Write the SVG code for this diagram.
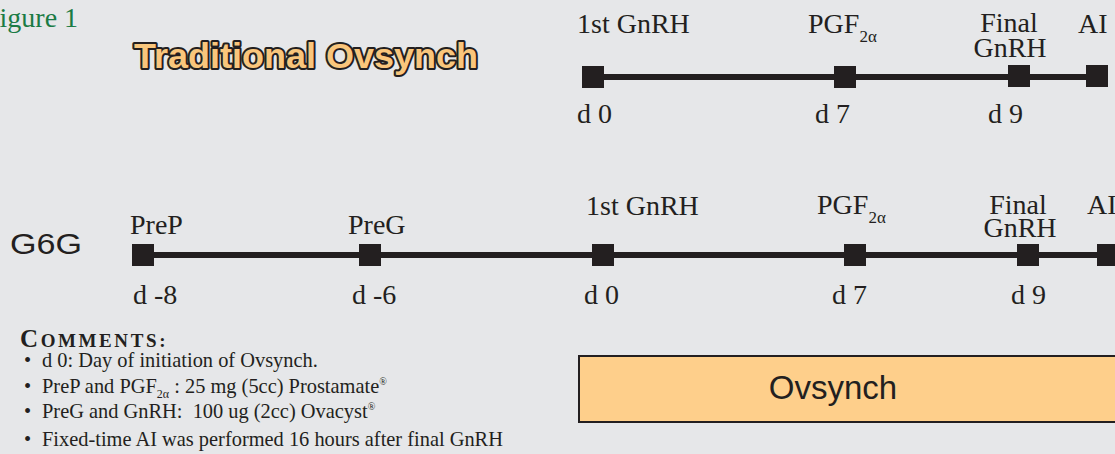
<svg xmlns="http://www.w3.org/2000/svg" width="1115" height="454" viewBox="0 0 1115 454">
<style>
.lbl{font-family:"Liberation Serif","Times New Roman",serif;font-size:28px;fill:#231f20}
.sub{font-size:17px}
.mk{fill:#231f20}
.ln{stroke:#231f20;stroke-width:6;fill:none}
.cm{font-family:"Liberation Serif","Times New Roman",serif;font-size:20.4px;fill:#231f20}
</style>
<rect x="0" y="0" width="1115" height="454" fill="#e6e7e9"/>
<text x="-16" y="27" font-family="Liberation Serif, serif" font-size="28" fill="#1b7b45">Figure 1</text>
<text id="title" x="134" y="68" font-family="Liberation Sans, Arial, sans-serif" font-weight="bold" font-size="35" fill="#f9c67c" stroke="#231f20" stroke-width="4" stroke-linejoin="round" paint-order="stroke" textLength="344" lengthAdjust="spacingAndGlyphs">Traditional Ovsynch</text>
<text id="g6g" x="10" y="254" font-family="Liberation Sans, Arial, sans-serif" font-size="29" fill="#231f20" textLength="72" lengthAdjust="spacingAndGlyphs">G6G</text>

<g id="connectors">
<line class="ln" x1="582" y1="77" x2="1108" y2="77"/>
<line class="ln" x1="132" y1="255" x2="1115" y2="255"/>
</g>

<g id="top-1st-gnrh">
<rect class="mk" x="582" y="66" width="22" height="22"/>
<text class="lbl" x="577" y="33">1st GnRH</text>
<text class="lbl" x="577" y="123">d 0</text>
</g>
<g id="top-pgf">
<rect class="mk" x="834" y="66" width="22" height="22"/>
<text class="lbl" x="808" y="33">PGF<tspan class="sub" dy="9">2α</tspan></text>
<text class="lbl" x="815" y="123">d 7</text>
</g>
<g id="top-final-gnrh">
<rect class="mk" x="1008" y="65" width="22" height="22"/>
<text class="lbl" x="1009" y="32" text-anchor="middle">Final</text>
<text class="lbl" x="1010" y="57" text-anchor="middle">GnRH</text>
<text class="lbl" x="988" y="123">d 9</text>
</g>
<g id="top-ai">
<rect class="mk" x="1086" y="65" width="22" height="22"/>
<text class="lbl" x="1078" y="33">AI</text>
</g>

<g id="g6g-prep">
<rect class="mk" x="132" y="244" width="22" height="22"/>
<text class="lbl" x="130" y="234">PreP</text>
<text class="lbl" x="133" y="304">d -8</text>
</g>
<g id="g6g-preg">
<rect class="mk" x="359" y="244" width="22" height="22"/>
<text class="lbl" x="348" y="234">PreG</text>
<text class="lbl" x="352" y="304">d -6</text>
</g>
<g id="g6g-1st-gnrh">
<rect class="mk" x="592" y="244" width="22" height="22"/>
<text class="lbl" x="586" y="215">1st GnRH</text>
<text class="lbl" x="584" y="304">d 0</text>
</g>
<g id="g6g-pgf">
<rect class="mk" x="844" y="244" width="22" height="22"/>
<text class="lbl" x="817" y="214">PGF<tspan class="sub" dy="9">2α</tspan></text>
<text class="lbl" x="832" y="304">d 7</text>
</g>
<g id="g6g-final-gnrh">
<rect class="mk" x="1017" y="244" width="22" height="22"/>
<text class="lbl" x="1018" y="214" text-anchor="middle">Final</text>
<text class="lbl" x="1020" y="237" text-anchor="middle">GnRH</text>
<text class="lbl" x="1011" y="304">d 9</text>
</g>
<g id="g6g-ai">
<rect class="mk" x="1097" y="244" width="22" height="22"/>
<text class="lbl" x="1087" y="214">AI</text>
</g>

<g id="comments">
<text x="20" y="347" font-family="Liberation Serif, serif" font-weight="bold" fill="#231f20" letter-spacing="2.6"><tspan font-size="25">C</tspan><tspan font-size="19">OMMENTS:</tspan></text>
<text class="cm" x="24" y="367">•</text>
<text class="cm" x="42" y="367">d 0: Day of initiation of Ovsynch.</text>
<text class="cm" x="24" y="393">•</text>
<text class="cm" x="42" y="393">PreP and PGF<tspan font-size="12" dy="5">2α</tspan><tspan dy="-5"> : 25 mg (5cc) Prostamate</tspan><tspan font-size="10" dy="-8">®</tspan></text>
<text class="cm" x="24" y="418">•</text>
<text class="cm" x="42" y="418" xml:space="preserve">PreG and GnRH:  100 ug (2cc) Ovacyst<tspan font-size="10" dy="-8">®</tspan></text>
<text class="cm" x="24" y="446">•</text>
<text class="cm" x="42" y="446">Fixed-time AI was performed 16 hours after final GnRH</text>
</g>

<g id="ovsynch-box">
<rect x="579" y="356" width="545" height="66" fill="#fecf8b" stroke="#231f20" stroke-width="2"/>
<text x="833" y="399" font-family="Liberation Sans, Arial, sans-serif" font-size="33" fill="#231f20" text-anchor="middle">Ovsynch</text>
</g>
</svg>
